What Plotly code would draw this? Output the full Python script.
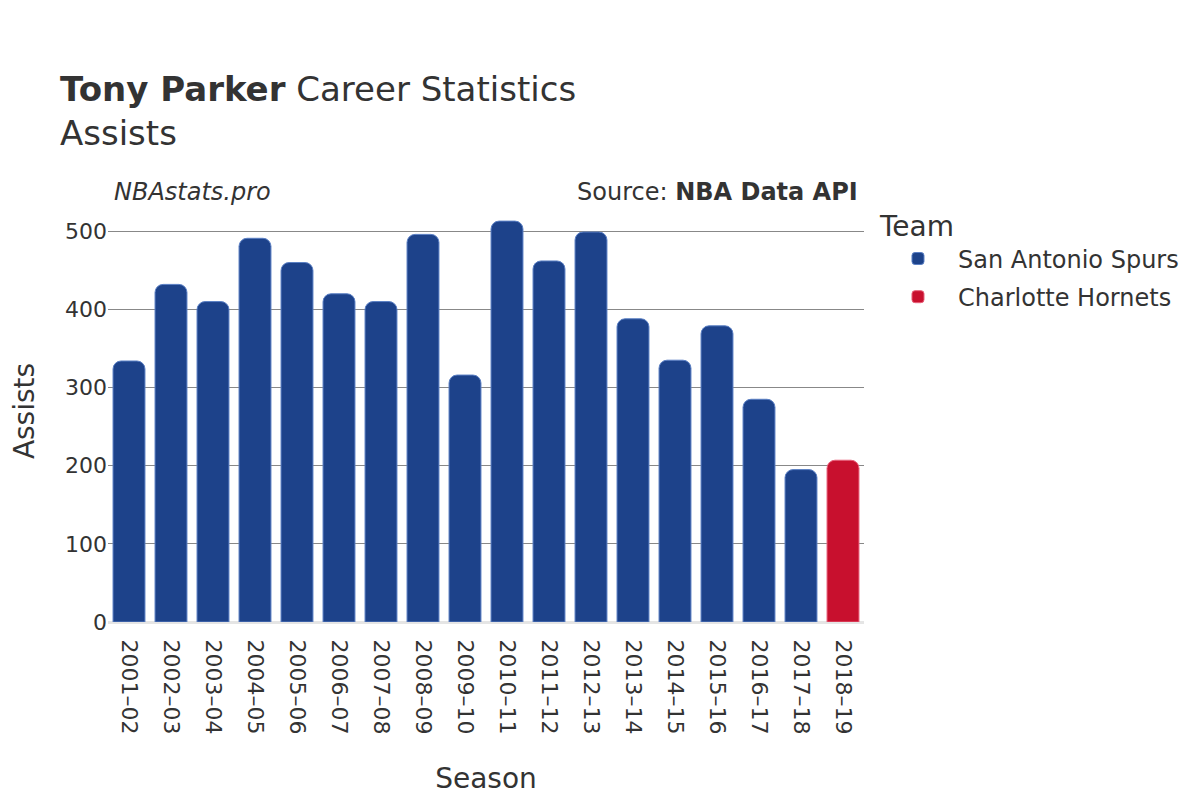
import plotly.graph_objects as go

seasons = ["2001–02", "2002–03", "2003–04", "2004–05", "2005–06", "2006–07",
           "2007–08", "2008–09", "2009–10", "2010–11", "2011–12", "2012–13",
           "2013–14", "2014–15", "2015–16", "2016–17", "2017–18", "2018–19"]
teams = ["San Antonio Spurs"] * 17 + ["Charlotte Hornets"]
assists = [334, 432, 410, 491, 460, 420, 410, 496, 316, 513, 462, 499,
           388, 335, 379, 285, 195, 207]

team_colors = {"San Antonio Spurs": "#1d428a", "Charlotte Hornets": "#c8102e"}
team_lines = {"San Antonio Spurs": "#5a7fc4", "Charlotte Hornets": "#e8607a"}

fig = go.Figure()
for team in ["San Antonio Spurs", "Charlotte Hornets"]:
    xs = [s for s, t in zip(seasons, teams) if t == team]
    ys = [a for a, t in zip(assists, teams) if t == team]
    fig.add_trace(go.Bar(
        x=xs, y=ys, name=team, legendgroup=team,
        marker=dict(color=team_colors[team], cornerradius=8,
                    line=dict(color=team_lines[team], width=1)),
    ))

font_family = "DejaVu Sans"
fig.update_layout(
    width=1200, height=800,
    paper_bgcolor="white", plot_bgcolor="white",
    font=dict(family=font_family, color="#333333", size=22),
    title=dict(
        text="<b>Tony Parker</b> Career Statistics<br>Assists",
        x=0.0433, xanchor="left", y=0.884, yanchor="top",
        font=dict(size=34, color="#333333"),
    ),
    margin=dict(l=100, r=344, t=192, b=186),
    bargap=0.24,
    legend=dict(
        title=dict(text="Team", font=dict(size=28)),
        font=dict(size=24),
        x=1.0185, xanchor="left", y=1.0, yanchor="top",
        traceorder="grouped", tracegroupgap=4,
        itemwidth=70,
    ),
    xaxis=dict(
        title=dict(text="Season", font=dict(size=28), standoff=35),
        categoryorder="array", categoryarray=seasons,
        tickangle=90, tickfont=dict(size=22),
        showgrid=False, ticks="outside", ticklen=12,
        tickcolor="rgba(0,0,0,0)",
    ),
    yaxis=dict(
        title=dict(text="Assists", font=dict(size=28), standoff=35),
        range=[0, 540], tickvals=[0, 100, 200, 300, 400, 500],
        tickfont=dict(size=22), automargin=False,
        showgrid=True, gridcolor="#888888", gridwidth=1,
        zeroline=True, zerolinecolor="#e5e5e5", zerolinewidth=3,
        ticks="",
    ),
    annotations=[
        dict(text="<i>NBAstats.pro</i>", x=0.005, xref="paper", y=0.982, yref="paper",
             xanchor="left", yanchor="bottom", showarrow=False,
             font=dict(size=24, color="#333333")),
        dict(text="Source: <b>NBA Data API</b>", x=0.995, xref="paper", y=0.982, yref="paper",
             xanchor="right", yanchor="bottom", showarrow=False,
             font=dict(size=24, color="#333333")),
    ],
)

fig.write_html("out.html")
